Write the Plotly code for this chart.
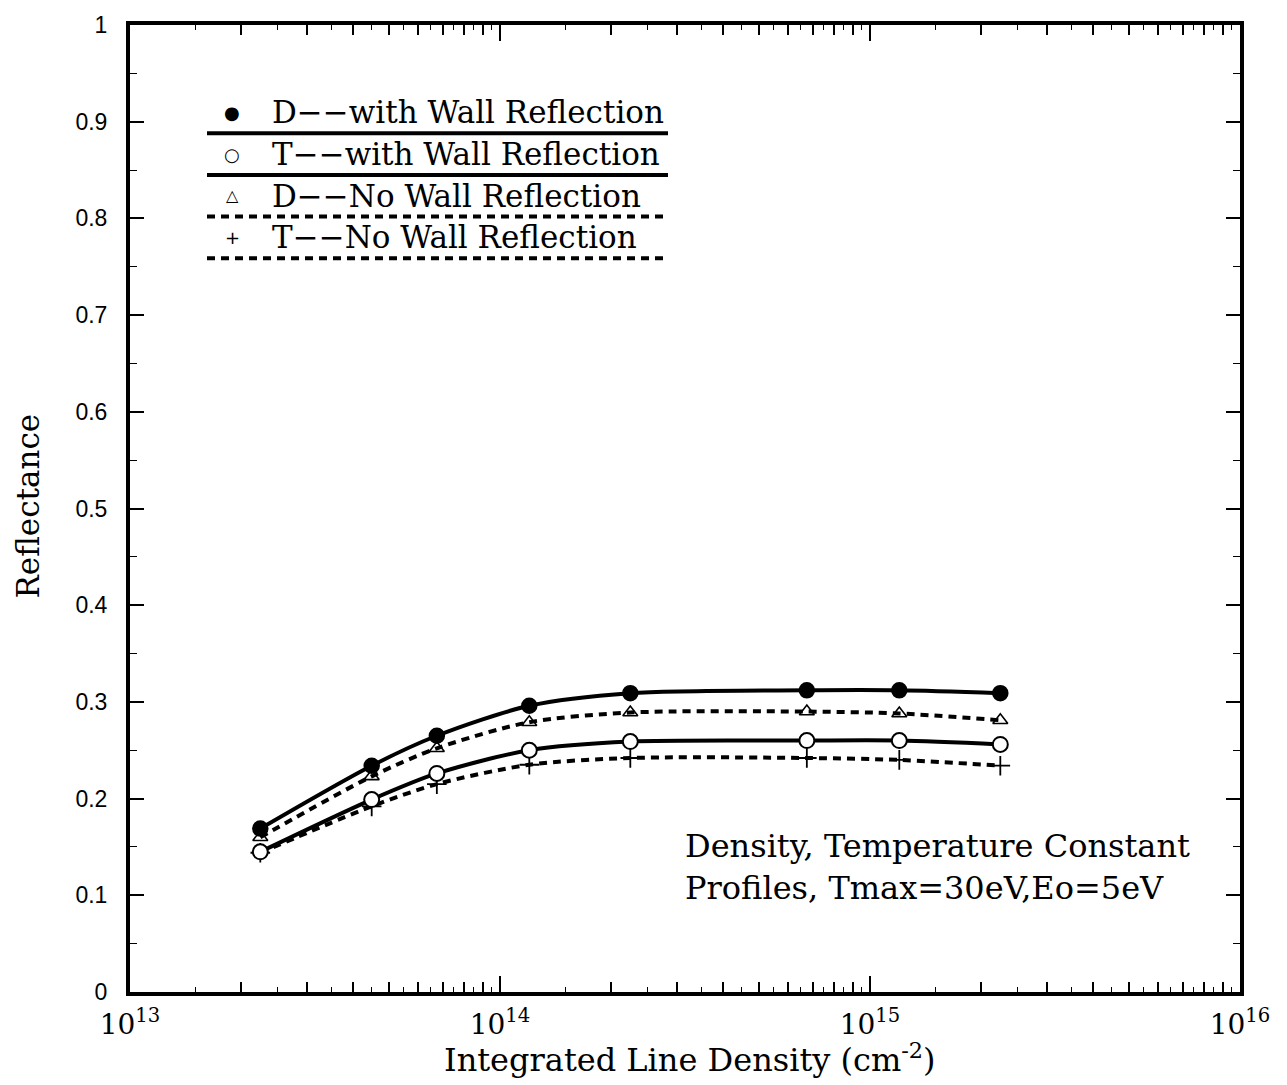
import plotly.graph_objects as go

# Data
density = [2.25e13, 4.5e13, 6.75e13, 1.2e14, 2.25e14, 6.75e14, 1.2e15, 2.25e15]
d_wall = [0.169, 0.234, 0.265, 0.296, 0.309, 0.312, 0.312, 0.309]
t_wall = [0.145, 0.199, 0.226, 0.250, 0.259, 0.260, 0.260, 0.256]
d_nowall = [0.160, 0.223, 0.252, 0.279, 0.289, 0.290, 0.288, 0.281]
t_nowall = [0.144, 0.192, 0.215, 0.235, 0.242, 0.242, 0.240, 0.234]

decades = [1e13, 1e14, 1e15, 1e16]
decade_labels = ["10<sup>13</sup>", "10<sup>14</sup>", "10<sup>15</sup>", "10<sup>16</sup>"]

legend_labels = ["D\u2212\u2212with Wall Reflection", "T\u2212\u2212with Wall Reflection",
                 "D\u2212\u2212No Wall Reflection", "T\u2212\u2212No Wall Reflection"]
legend_symbols = ["\u25CF", "\u25CB", "\u25B3", "+"]
legend_dash = ["solid", "solid", "dash", "dash"]

FONT = "DejaVu Serif"
SANS = "Liberation Sans"

fig = go.Figure()

def add_series(y, dash, symbol, fill, size, lw):
    fig.add_trace(go.Scatter(
        x=density, y=y, mode="lines+markers",
        line=dict(color="black", width=4, dash=dash, shape="spline", smoothing=0.8),
        marker=dict(symbol=symbol, size=size, color=fill,
                    line=dict(color="black", width=lw)),
        showlegend=False))

add_series(d_nowall, "8px,6px", "triangle-up-open", "black", 13, 1.6)
add_series(t_nowall, "8px,6px", "cross-thin-open", "black", 14, 1.8)
add_series(d_wall, "solid", "circle", "black", 15, 1.5)
add_series(t_wall, "solid", "circle", "white", 15, 2)

# intermediate log ticks (2..9 per decade) and half-step ticks
int_vals, half_vals = [], []
for n in range(13, 16):
    for k in range(1, 10):
        if k > 1:
            int_vals.append(k * 10 ** n)
        half_vals.append((k + 0.5) * 10 ** n)

y_vals = [i / 10 for i in range(11)]
y_text = ["0"] + [f"{v:.1f}" for v in y_vals[1:-1]] + ["1"]

fig.update_layout(
    width=1287, height=1085,
    margin=dict(l=130, r=47, t=18, b=93),
    paper_bgcolor="white", plot_bgcolor="white",
    font=dict(family=FONT, color="black"),
    xaxis=dict(type="log", range=[13, 16], showgrid=False, zeroline=False,
               showline=True, linecolor="black", linewidth=4, mirror="ticks",
               ticks="inside", ticklen=16, tickwidth=1.8, tickcolor="black",
               tickvals=decades, ticktext=decade_labels,
               tickfont=dict(size=28, family=FONT), ticklabelstandoff=4),
    xaxis2=dict(type="log", range=[13, 16], overlaying="x", anchor="y",
                side="bottom", showgrid=False, zeroline=False, showline=False,
                ticks="inside", ticklen=10, tickwidth=1.5, tickcolor="black",
                tickvals=int_vals, showticklabels=False, mirror="ticks",
                minor=dict(tickvals=half_vals, ticks="inside", ticklen=5,
                           tickwidth=1.2, tickcolor="black", showgrid=False)),
    yaxis=dict(range=[0, 1], showgrid=False, zeroline=False,
               showline=True, linecolor="black", linewidth=4, mirror="ticks",
               ticks="inside", ticklen=14, tickwidth=1.5, tickcolor="black",
               tickvals=y_vals, ticktext=y_text,
               tickfont=dict(size=23, family=SANS), ticklabelstandoff=14,
               minor=dict(dtick=0.05, ticks="inside", ticklen=7,
                          tickwidth=1.2, tickcolor="black", showgrid=False)),
)
# dummy trace on xaxis2 so it renders
fig.add_trace(go.Scatter(x=[1e13], y=[None], xaxis="x2", showlegend=False,
                         hoverinfo="skip"))

L, R, T, B = 130, 1240, 18, 992
def px(x):
    return (x - L) / (R - L)
def py(y):
    return (B - y) / (B - T)

# manual legend
row_text_y = [106, 148, 190, 232]
row_line_y = [127, 169, 211, 253]
sym_sizes = [18, 18, 16, 18]
for i in range(4):
    fig.add_annotation(xref="paper", yref="paper", x=px(232), y=py(row_text_y[i]),
                       text=legend_symbols[i], showarrow=False,
                       font=dict(size=sym_sizes[i], family="DejaVu Sans"),
                       xanchor="center", yanchor="middle")
    fig.add_annotation(xref="paper", yref="paper", x=px(270), y=py(row_text_y[i]),
                       text=legend_labels[i], showarrow=False,
                       font=dict(size=31, family=FONT),
                       xanchor="left", yanchor="middle")
    fig.add_shape(type="line", xref="paper", yref="paper",
                  x0=px(207), x1=px(668), y0=py(row_line_y[i]), y1=py(row_line_y[i]),
                  line=dict(color="black", width=4,
                            dash="solid" if legend_dash[i] == "solid" else "8px,6px"))

fig.add_annotation(xref="paper", yref="paper", x=px(683), y=py(866),
                   text="Density, Temperature Constant<br>Profiles, Tmax=30eV,Eo=5eV",
                   showarrow=False, align="left", xanchor="left", yanchor="middle",
                   font=dict(size=32, family=FONT))

# axis titles
fig.add_annotation(xref="paper", yref="paper", x=px(690), y=py(1058),
                   text="Integrated Line Density (cm<sup>-2</sup>)", showarrow=False,
                   xanchor="center", yanchor="middle", font=dict(size=32, family=FONT))
fig.add_annotation(xref="paper", yref="paper", x=px(28), y=py(503),
                   text="Reflectance", showarrow=False, textangle=-90,
                   xanchor="center", yanchor="middle", font=dict(size=31, family=FONT))

fig.write_html("out.html")
